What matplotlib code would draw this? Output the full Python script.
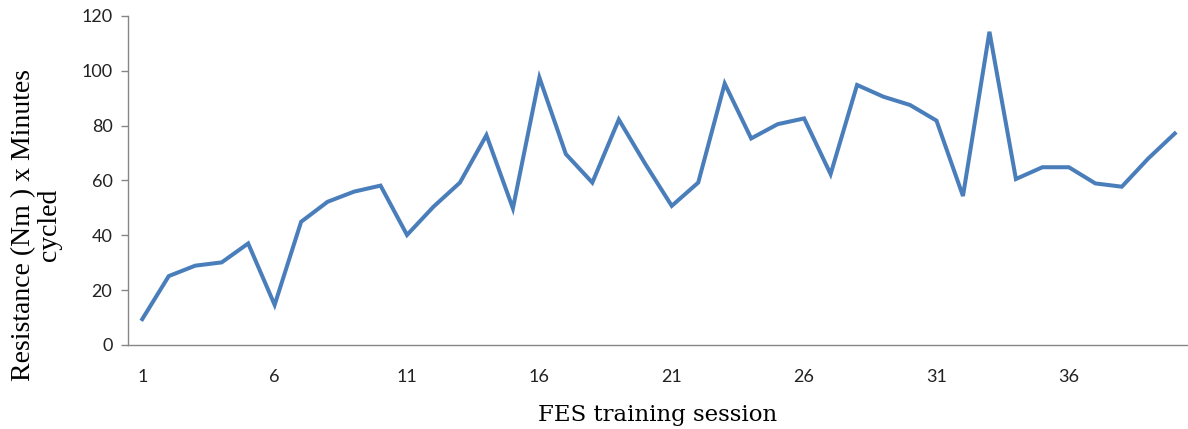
import matplotlib
matplotlib.use("Agg")
import matplotlib.pyplot as plt

sessions = list(range(1, 41))
resistance_minutes = [
    9.4, 25.1, 28.9, 30.1, 37.0, 14.6, 44.9, 52.2, 55.9, 58.1,
    40.1, 50.4, 59.2, 76.5, 49.8, 97.5, 69.6, 59.2, 82.2, 66.0,
    50.7, 59.2, 95.3, 75.3, 80.5, 82.6, 62.3, 94.8, 90.5, 87.5,
    81.8, 54.3, 114.2, 60.5, 64.8, 64.8, 58.9, 57.7, 68.0, 77.1,
]
xtick_labels = ["1", "6", "11", "16", "21", "26", "31", "36"]
xticks = [int(t) for t in xtick_labels]
yticks = [0, 20, 40, 60, 80, 100, 120]

fig = plt.figure(figsize=(11.88, 4.29), dpi=100)
ax = fig.add_axes([0.1075, 0.196, 0.8925, 0.767])

ax.plot(sessions, resistance_minutes, color="#4a7ebb", linewidth=2.9,
        solid_joinstyle="miter")

ax.set_xlim(0.45, 40.5)
ax.set_ylim(0, 120)
ax.set_xticks(xticks)
ax.set_xticklabels(xtick_labels)
ax.set_yticks(yticks)

for s in ("top", "right"):
    ax.spines[s].set_visible(False)
for s in ("left", "bottom"):
    ax.spines[s].set_color("#868686")
    ax.spines[s].set_linewidth(1.0)

ax.tick_params(axis="y", length=5, width=1, color="#868686", pad=6,
               labelsize=13, labelcolor="#222222")
ax.tick_params(axis="x", length=0, pad=17, labelsize=13, labelcolor="#222222")
for lab in ax.get_xticklabels() + ax.get_yticklabels():
    lab.set_family("Lato")

ax.set_ylabel("Resistance (Nm ) x Minutes\ncycled", family="Liberation Serif",
              fontsize=20, linespacing=1.05)
ax.yaxis.set_label_coords(-0.062, 0.365)
ax.set_xlabel("FES training session", family="DejaVu Serif", fontsize=16.5)
ax.xaxis.set_label_coords(0.5, -0.18)

fig.savefig("out.png", dpi=100)
